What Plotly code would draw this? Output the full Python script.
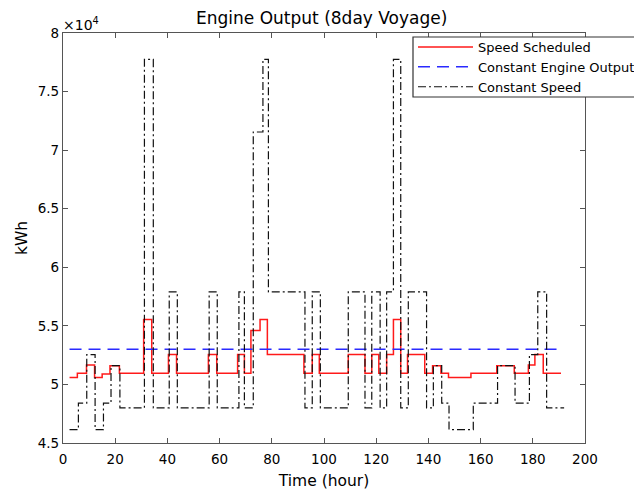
import plotly.graph_objects as go

# ---- data ----
red_t = [2.5, 5.5, 9.0, 12.1, 15.0, 18.0, 21.6, 30.9, 34.0, 40.4, 43.5, 55.7, 58.9, 66.9, 69.5,
         72.0, 75.5, 78.3, 92.3, 95.5, 98.2, 109.3, 115.7, 118.3, 121.0, 124.0, 126.6, 129.4,
         132.0, 138.6, 141.6, 144.8, 147.7, 156.3, 166.2, 172.9, 178.3, 180.8, 184.0, 190.8]
red_v = [50600, 50950, 51650, 50600, 50900, 51600, 50950, 55550, 50950, 52550, 50950, 52550,
         50950, 52550, 50950, 54600, 55550, 52550, 50950, 52550, 50950, 52550, 50950, 52550,
         50950, 52550, 55550, 50950, 52550, 50950, 51600, 50950, 50600, 50950, 51600, 50950,
         51650, 52550, 50950]

blk_t = [2.5, 5.9, 9.1, 12.3, 15.5, 18.4, 21.8, 31.2, 34.6, 40.7, 43.8, 56.0, 59.1, 67.4, 69.5,
         72.9, 76.6, 78.7, 92.7, 95.5, 98.6, 109.3, 115.7, 118.3, 121.5, 124.0, 126.6, 129.4,
         132.3, 139.3, 141.9, 145.1, 147.9, 157.2, 166.5, 173.2, 178.7, 181.9, 185.3, 192.0]
blk_v = [46150, 48400, 52550, 46150, 48400, 51600, 48000, 77750, 48000, 57900, 48000, 57900,
         48000, 57900, 48000, 71550, 77750, 57900, 48000, 57900, 48000, 57900, 48000, 57900,
         48000, 57900, 77750, 48000, 57900, 48000, 51600, 48400, 46150, 48400, 51600, 48400,
         52550, 57900, 48000]

blue_t = [2.5, 191.0]
blue_v = [53000, 53000]

y_ticks = [45000, 50000, 55000, 60000, 65000, 70000, 75000, 80000]
y_ticktext = ["4.5", "5", "5.5", "6", "6.5", "7", "7.5", "8"]
x_ticks = list(range(0, 201, 20))

FONT = "DejaVu Sans, sans-serif"
W, H = 634, 495

fig = go.Figure()
fig.add_trace(go.Scatter(x=red_t, y=red_v + [red_v[-1]], mode="lines", line_shape="hv",
                         name="Speed Scheduled", line=dict(color="#ff1a1a", width=1.5)))
fig.add_trace(go.Scatter(x=blue_t, y=blue_v, mode="lines",
                         name="Constant Engine Output",
                         line=dict(color="#2a2aff", width=1.5, dash="12px,7px")))
fig.add_trace(go.Scatter(x=blk_t, y=blk_v + [blk_v[-1]], mode="lines", line_shape="hv",
                         name="Constant Speed",
                         line=dict(color="#111111", width=1.2, dash="8px,3px,2px,3px")))

axis_common = dict(showline=True, mirror="ticks", linecolor="#555555", linewidth=1.3,
                   ticks="inside", ticklen=5, tickcolor="#555555", showgrid=False,
                   zeroline=False, tickfont=dict(size=13.5, color="#000", family=FONT))

PL, PR, PT, PB = 63, 49, 33, 52
pw, ph = W - PL - PR, H - PT - PB

fig.update_layout(
    width=W, height=H,
    margin=dict(l=PL, r=PR, t=PT, b=PB, autoexpand=False),
    paper_bgcolor="white", plot_bgcolor="white",
    font=dict(family=FONT, color="#000"),
    title=dict(text="Engine Output (8day Voyage)", x=321.7 / W, xanchor="center",
               y=1 - 18.5 / H, yanchor="middle", font=dict(size=17, family=FONT)),
    xaxis=dict(range=[0, 200], tickvals=x_ticks, ticklabelstandoff=4,
               title=dict(text="Time (hour)", font=dict(size=15.5), standoff=8), **axis_common),
    yaxis=dict(range=[45000, 80000], tickvals=y_ticks, ticktext=y_ticktext,
               title=dict(text="kWh", font=dict(size=15.5), standoff=6), **axis_common),
    legend=dict(x=(413 - PL) / pw, y=1 - (32 - PT) / ph, xanchor="left", yanchor="top",
                bgcolor="rgba(0,0,0,0)", borderwidth=0,
                font=dict(size=13, family=FONT), tracegroupgap=0, itemwidth=55),
    showlegend=True,
)
# legend frame (white box with dark border, drawn over the data like the reference)
fig.add_shape(type="rect", xref="paper", yref="paper", layer="above",
              x0=(413 - PL) / pw, x1=(640 - PL) / pw,
              y0=1 - (97 - PT) / ph, y1=1 - (37 - PT) / ph,
              line=dict(color="#333333", width=1.2), fillcolor="white")
fig.add_annotation(text="×10<sup>4</sup>", xref="paper", yref="paper", x=0, y=1,
                   xanchor="left", yanchor="bottom", showarrow=False,
                   font=dict(size=14, family=FONT), xshift=-2, yshift=-2)

fig.write_html("out.html", config={"displayModeBar": False},
               post_script="document.body.style.margin='0px';")
